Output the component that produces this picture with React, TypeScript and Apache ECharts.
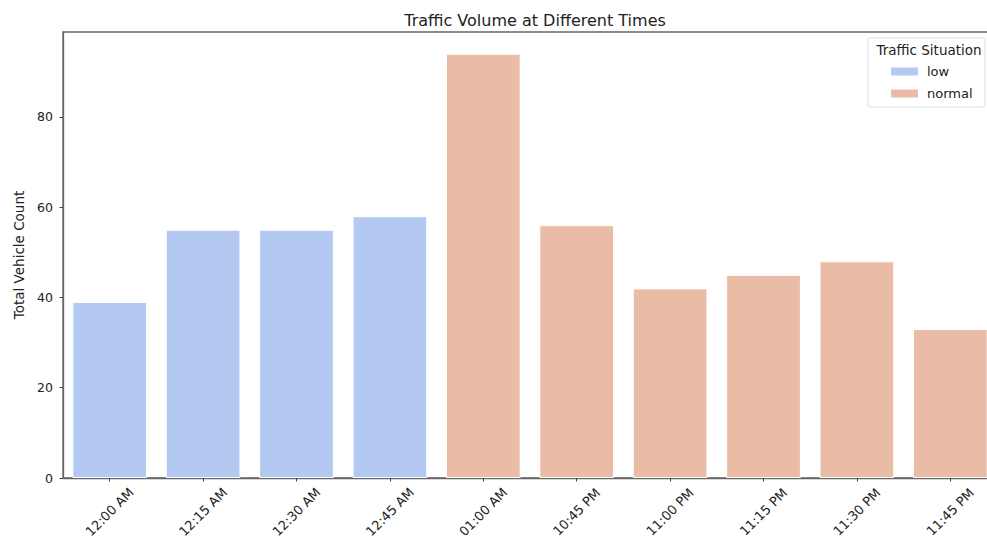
import React, { useEffect, useRef } from "react";
import * as echarts from "echarts";

const categories = [
  "12:00 AM", "12:15 AM", "12:30 AM", "12:45 AM", "01:00 AM",
  "10:45 PM", "11:00 PM", "11:15 PM", "11:30 PM", "11:45 PM",
];
const lowValues: (number | string)[] = [39, 55, 55, 58, "-", "-", "-", "-", "-", "-"];
const normalValues: (number | string)[] = ["-", "-", "-", "-", 94, 56, 42, 45, 48, 33];
const yTicks = [0, 20, 40, 60, 80];

const FONT = "DejaVu Sans";
const LOW = "#b4c9f2";
const NORMAL = "#eabba5";

export default function App() {
  const ref = useRef<HTMLDivElement>(null);
  useEffect(() => {
    if (!ref.current) return;
    document.body.style.margin = "0";
    document.documentElement.style.overflow = "hidden";
    document.body.style.overflow = "hidden";
    const chart = echarts.init(ref.current, undefined, { renderer: "svg" });
    chart.setOption({
      animation: false,
      backgroundColor: "#ffffff",
      textStyle: { fontFamily: FONT },
      title: {
        text: "Traffic Volume at Different Times",
        left: 530,
        textAlign: "center",
        top: 7,
        textStyle: { fontFamily: FONT, fontSize: 16, fontWeight: "normal", color: "#222" },
      },
      grid: {
        left: 63,
        top: 32,
        width: 934,
        height: 446,
        outerBoundsMode: "none",
        containLabel: false,
        show: true,
        borderColor: "#666",
        borderWidth: 1.3,
        backgroundColor: "transparent",
      },
      legend: {
        orient: "vertical",
        left: 884,
        top: 60,
        z: 10,
        itemWidth: 29,
        itemHeight: 10,
        itemGap: 9,
        icon: "rect",
        textStyle: { fontFamily: FONT, fontSize: 13, color: "#222", padding: [0, 0, 0, 3] },
        data: ["low", "normal"],
      },
      graphic: [
        {
          type: "rect",
          shape: { x: 868, y: 38, width: 117, height: 69, r: 2 },
          style: { fill: "rgba(255,255,255,0.8)", stroke: "#ddd", lineWidth: 1 },
          z: 5,
        },
        {
          type: "text",
          x: 929,
          y: 50,
          style: {
            text: "Traffic Situation",
            fontFamily: FONT,
            fontSize: 13.5,
            fill: "#222",
            align: "center",
            verticalAlign: "middle",
          },
          z: 6,
        },
      ],
      xAxis: {
        type: "category",
        data: categories,
        axisLine: { show: true, lineStyle: { color: "#666", width: 1.3 } },
        axisTick: { show: true, alignWithLabel: true, length: 3.5, lineStyle: { color: "#444" } },
        axisLabel: {
          rotate: 45,
          interval: 0,
          align: "center",
          verticalAlign: "middle",
          margin: 34,
          fontFamily: FONT,
          fontSize: 13,
          color: "#222",
        },
      },
      yAxis: {
        type: "value",
        min: 0,
        max: 98.8,
        interval: 20,
        name: "Total Vehicle Count",
        nameLocation: "middle",
        nameGap: 37,
        nameTextStyle: { fontFamily: FONT, fontSize: 13.5, color: "#222" },
        axisLine: { show: true, lineStyle: { color: "#666", width: 1.3 } },
        axisTick: { show: true, length: 3.5, lineStyle: { color: "#444" }, customValues: yTicks },
        axisLabel: { fontFamily: FONT, fontSize: 12.5, color: "#222", margin: 10, customValues: yTicks },
        splitLine: { show: false },
      },
      series: [
        {
          name: "low",
          type: "bar",
          data: lowValues,
          barWidth: "80%",
          barGap: "-100%",
          itemStyle: { color: LOW, borderColor: "#ffffff", borderWidth: 1 },
        },
        {
          name: "normal",
          type: "bar",
          data: normalValues,
          barWidth: "80%",
          barGap: "-100%",
          itemStyle: { color: NORMAL, borderColor: "#ffffff", borderWidth: 1 },
        },
      ],
    });
    return () => chart.dispose();
  }, []);
  return <div ref={ref} style={{ width: 987, height: 542 }} />;
}
